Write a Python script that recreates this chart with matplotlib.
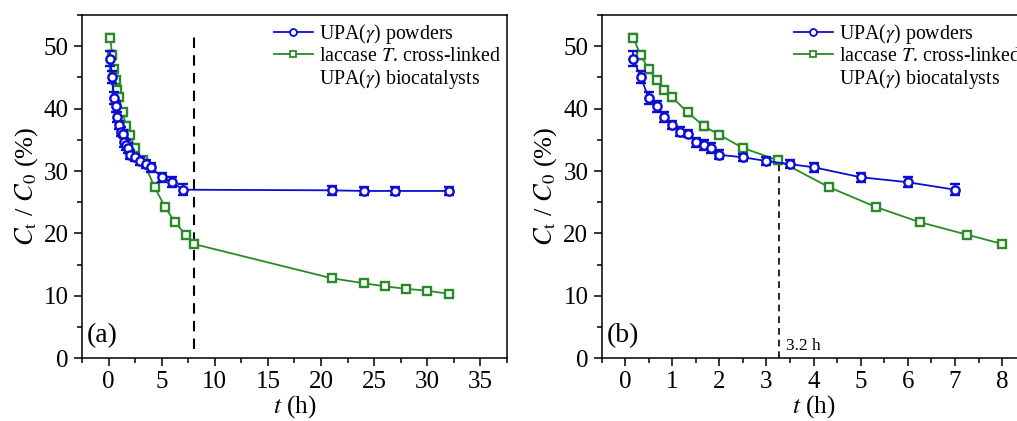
import matplotlib
matplotlib.use("Agg")
import matplotlib.pyplot as plt
from matplotlib.lines import Line2D
from matplotlib.ticker import MultipleLocator

plt.rcParams['font.family'] = ['Liberation Serif', 'DejaVu Serif']
plt.rcParams['mathtext.fontset'] = 'stix'

# UPA(gamma) powders, short run (h, %)
t_blue = [0.17, 0.33, 0.5, 0.67, 0.83, 1.0, 1.17, 1.33, 1.5, 1.67, 1.83, 2.0,
          2.5, 3.0, 3.5, 4.0, 5.0, 6.0, 7.0]
c_blue = [48.0, 45.1, 41.7, 40.4, 38.7, 37.4, 36.3, 36.0, 34.6, 34.1, 33.7, 32.6,
          32.2, 31.6, 31.1, 30.6, 29.0, 28.2, 27.0]
e_blue = [1.2, 1.0, 1.0, 0.9, 0.8, 0.7, 0.7, 0.6, 0.7, 0.8, 0.8, 0.7,
          0.6, 0.6, 0.6, 0.7, 0.7, 0.8, 0.9]
# long run extra points
t_blue_long = [21, 24, 27, 32]
c_blue_long = [26.9, 26.8, 26.8, 26.8]
e_blue_long = [0.7, 0.6, 0.7, 0.6]

# laccase T. cross-linked biocatalysts
t_green = [0.17, 0.33, 0.5, 0.67, 0.83, 1.0, 1.33, 1.67, 2.0, 2.5, 3.25,
           4.33, 5.33, 6.25, 7.25, 8.0]
c_green = [51.4, 48.6, 46.3, 44.6, 43.0, 41.8, 39.4, 37.2, 35.8, 33.7, 31.7,
           27.4, 24.2, 21.8, 19.8, 18.3]
e_green = [0.6, 0.7, 0.5, 0.5, 0.5, 0.6, 0.5, 0.6, 0.5, 0.4, 0.5,
           0.3, 0.3, 0.3, 0.3, 0.3]
t_green_long = [21, 24, 26, 28, 30, 32]
c_green_long = [12.8, 12.0, 11.5, 11.1, 10.8, 10.3]
e_green_long = [0.3, 0.3, 0.3, 0.3, 0.3, 0.3]

blue = '#0c0cd2'
green = '#2a8a2a'

fig = plt.figure(figsize=(10.17, 4.21), dpi=100)
ax1 = fig.add_axes([0.0806, 0.1496, 0.4179, 0.8144])
ax2 = fig.add_axes([0.5915, 0.1496, 0.4170, 0.8144])

def draw(ax, tb, cb, eb, tg, cg, eg):
    ax.errorbar(tb, cb, yerr=eb, color=blue, lw=1.3, marker='o', ms=6,
                mfc='white', mec=blue, mew=1.7, capsize=3.5, elinewidth=1.3,
                capthick=1.4, zorder=3)
    ax.errorbar(tg, cg, yerr=eg, color=green, lw=1.3, marker='s', ms=5.5,
                mfc='white', mec=green, mew=1.7, capsize=3, elinewidth=1.3,
                capthick=1.4, zorder=2)
    ax.set_ylim(0, 55)
    ax.yaxis.set_major_locator(MultipleLocator(10))
    ax.yaxis.set_minor_locator(MultipleLocator(5))
    ax.tick_params(which='both', direction='out', top=False, right=False,
                   labelsize=18, width=1.1)
    ax.tick_params(which='major', length=6)
    ax.tick_params(which='minor', length=3.5)
    for s in ax.spines.values():
        s.set_linewidth(1.1)
    ax.set_xlabel(r'$t$ (h)', fontsize=18, labelpad=0)
    ax.set_ylabel(r'$C_{\mathrm{t}}$ / $C_0$ (%)', fontsize=19, labelpad=3)
    handles = [Line2D([], [], color=blue, marker='o', ms=5, mfc='white', mew=1.3, lw=1.3),
               Line2D([], [], color=green, marker='s', ms=5, mfc='white', mew=1.3, lw=1.3),
               Line2D([], [], alpha=0)]
    labels = [r'UPA($\gamma$) powders', r'laccase $T$. cross-linked',
              r'UPA($\gamma$) biocatalysts']
    return handles, labels

h, l = draw(ax1, t_blue + t_blue_long, c_blue + c_blue_long, e_blue + e_blue_long,
            t_green + t_green_long, c_green + c_green_long, e_green + e_green_long)
ax1.set_xlim(-2.5, 37.5)
ax1.xaxis.set_major_locator(MultipleLocator(5))
ax1.xaxis.set_minor_locator(MultipleLocator(2.5))
ax1.vlines(8, 1.5, 52.5, colors='black', linestyles=(0, (5, 3.5)), lw=1.5)
ax1.legend(h, l, loc='upper right', bbox_to_anchor=(1.02, 1.02), frameon=False,
           fontsize=14.3, handlelength=2.0, handletextpad=0.3, labelspacing=0.05,
           borderaxespad=0.3)
ax1.text(0.012, 0.045, '(a)', transform=ax1.transAxes, fontsize=20)

h, l = draw(ax2, t_blue, c_blue, e_blue, t_green, c_green, e_green)
ax2.set_xlim(-0.5, 8.5)
ax2.xaxis.set_major_locator(MultipleLocator(1))
ax2.xaxis.set_minor_locator(MultipleLocator(0.5))
ax2.vlines(3.27, 0, 31.7, colors='black', linestyles=(0, (4, 3)), lw=1.2)
ax2.text(3.42, 1.3, '3.2 h', fontsize=12.5)
ax2.legend(h, l, loc='upper left', bbox_to_anchor=(0.42, 1.02), frameon=False,
           fontsize=14.3, handlelength=2.0, handletextpad=0.3, labelspacing=0.05,
           borderaxespad=0.3)
ax2.text(0.012, 0.045, '(b)', transform=ax2.transAxes, fontsize=20)

fig.savefig('out.png', dpi=100)
